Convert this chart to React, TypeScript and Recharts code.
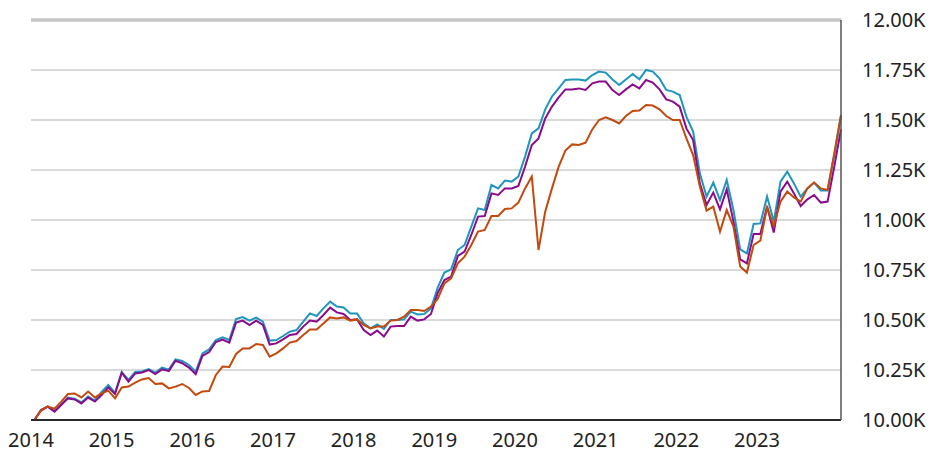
import { LineChart, Line, XAxis, YAxis, CartesianGrid, ReferenceLine } from 'recharts';

// month-end values, Dec 2013 .. Dec 2023 (growth of 10K)
const tealSeries = [
  10000, 10050, 10068, 10045, 10078, 10112, 10107, 10088, 10117, 10097, 10140, 10175, 10135,
  10240, 10200, 10240, 10243, 10255, 10237, 10262, 10252, 10303, 10295, 10275, 10242,
  10333, 10353, 10400, 10413, 10400, 10505, 10515, 10497, 10512, 10492, 10397, 10400,
  10420, 10442, 10450, 10492, 10533, 10520, 10558, 10592, 10567, 10563, 10533, 10533,
  10483, 10458, 10478, 10455, 10500, 10500, 10503, 10542, 10528, 10530, 10558, 10662,
  10737, 10753, 10850, 10875, 10967, 11058, 11050, 11175, 11158, 11197, 11192, 11217,
  11317, 11433, 11458, 11553, 11617, 11658, 11700, 11703, 11703, 11697, 11725, 11742,
  11737, 11703, 11675, 11703, 11730, 11703, 11750, 11742, 11708, 11650, 11642, 11625,
  11517, 11442, 11233, 11117, 11187, 11100, 11200, 11050, 10853, 10833, 10980, 10983,
  11117, 10992, 11192, 11242, 11183, 11117, 11158, 11187, 11147, 11147, 11325, 11520,
];

const purpleSeries = [
  10000, 10050, 10067, 10042, 10075, 10108, 10103, 10083, 10112, 10092, 10125, 10163, 10130,
  10237, 10192, 10233, 10237, 10250, 10230, 10253, 10245, 10296, 10284, 10262, 10229,
  10321, 10340, 10390, 10402, 10387, 10487, 10497, 10475, 10497, 10475, 10377, 10383,
  10403, 10425, 10430, 10467, 10497, 10492, 10525, 10562, 10538, 10530, 10500, 10503,
  10450, 10425, 10447, 10417, 10467, 10470, 10470, 10517, 10497, 10503, 10530, 10635,
  10700, 10717, 10820, 10842, 10925, 11017, 11020, 11133, 11125, 11158, 11158, 11170,
  11267, 11375, 11408, 11508, 11567, 11613, 11653, 11653, 11658, 11650, 11683, 11692,
  11692, 11650, 11625, 11653, 11678, 11658, 11700, 11687, 11653, 11603, 11592, 11567,
  11458, 11400, 11183, 11075, 11137, 11053, 11153, 10992, 10803, 10783, 10930, 10930,
  11067, 10937, 11142, 11192, 11133, 11070, 11103, 11125, 11087, 11092, 11267, 11453,
];

const orangeSeries = [
  10000, 10047, 10067, 10057, 10092, 10130, 10133, 10113, 10142, 10113, 10133, 10147, 10108,
  10163, 10167, 10187, 10203, 10210, 10180, 10183, 10158, 10167, 10180, 10160, 10125,
  10143, 10145, 10225, 10267, 10265, 10330, 10358, 10358, 10380, 10375, 10317, 10333,
  10358, 10387, 10395, 10425, 10453, 10453, 10483, 10513, 10508, 10513, 10497, 10503,
  10475, 10458, 10467, 10467, 10497, 10500, 10517, 10550, 10550, 10545, 10567, 10605,
  10683, 10708, 10783, 10817, 10875, 10942, 10950, 11020, 11020, 11055, 11058, 11087,
  11158, 11217, 10850, 11042, 11158, 11267, 11347, 11378, 11375, 11387, 11453, 11500,
  11513, 11500, 11483, 11520, 11545, 11547, 11575, 11572, 11553, 11520, 11500, 11500,
  11408, 11325, 11167, 11047, 11067, 10942, 11050, 10967, 10767, 10737, 10875, 10897,
  11063, 10970, 11092, 11142, 11113, 11092, 11158, 11187, 11158, 11150, 11333, 11525,
];

const yearLabels = ['2014', '2015', '2016', '2017', '2018', '2019', '2020', '2021', '2022', '2023'];
const yTicks = [10000, 10250, 10500, 10750, 11000, 11250, 11500, 11750, 12000];

const data = tealSeries.map((v, i) => ({
  m: i,
  teal: v,
  purple: purpleSeries[i],
  orange: orangeSeries[i],
}));

const xTicks = yearLabels.map((_, k) => k * 12 - 0.5);
const font = '"Noto Sans", "Open Sans", sans-serif';

export default function App() {
  return (
    <div style={{ position: 'absolute', left: 0, top: 0, fontFamily: font }}>
      <LineChart width={928} height={450} data={data} margin={{ top: 20, right: 0, left: 31, bottom: 0 }}>
        <CartesianGrid vertical={false} stroke="#b4b4b4" strokeWidth={1} />
        <ReferenceLine y={12000} stroke="#c6c6c6" strokeWidth={3.5} />
        <XAxis
          dataKey="m"
          type="number"
          domain={[-0.5, 120]}
          ticks={xTicks}
          tickFormatter={(v: number) => yearLabels[Math.round((v + 0.5) / 12)]}
          height={30}
          tickLine={false}
          tickSize={0}
          tickMargin={13}
          axisLine={{ stroke: '#2a2a2a', strokeWidth: 2 }}
          tick={{ fill: '#222', fontSize: 20, fontFamily: font }}
          interval={0}
        />
        <YAxis
          orientation="right"
          domain={[10000, 12000]}
          ticks={yTicks}
          tickFormatter={(v: number) => `${(v / 1000).toFixed(2)}K`}
          width={87}
          tickLine={false}
          tickSize={0}
          tickMargin={21}
          axisLine={{ stroke: '#555', strokeWidth: 1.5 }}
          tick={{ fill: '#222', fontSize: 20, fontFamily: font }}
          interval={0}
        />
        <Line type="linear" dataKey="teal" name="Fund" stroke="#1e96be" strokeWidth={2} dot={false} isAnimationActive={false} />
        <Line type="linear" dataKey="purple" name="Category" stroke="#8a0c8c" strokeWidth={2} dot={false} isAnimationActive={false} />
        <Line type="linear" dataKey="orange" name="Index" stroke="#c24a0e" strokeWidth={2} dot={false} isAnimationActive={false} />
      </LineChart>
    </div>
  );
}
